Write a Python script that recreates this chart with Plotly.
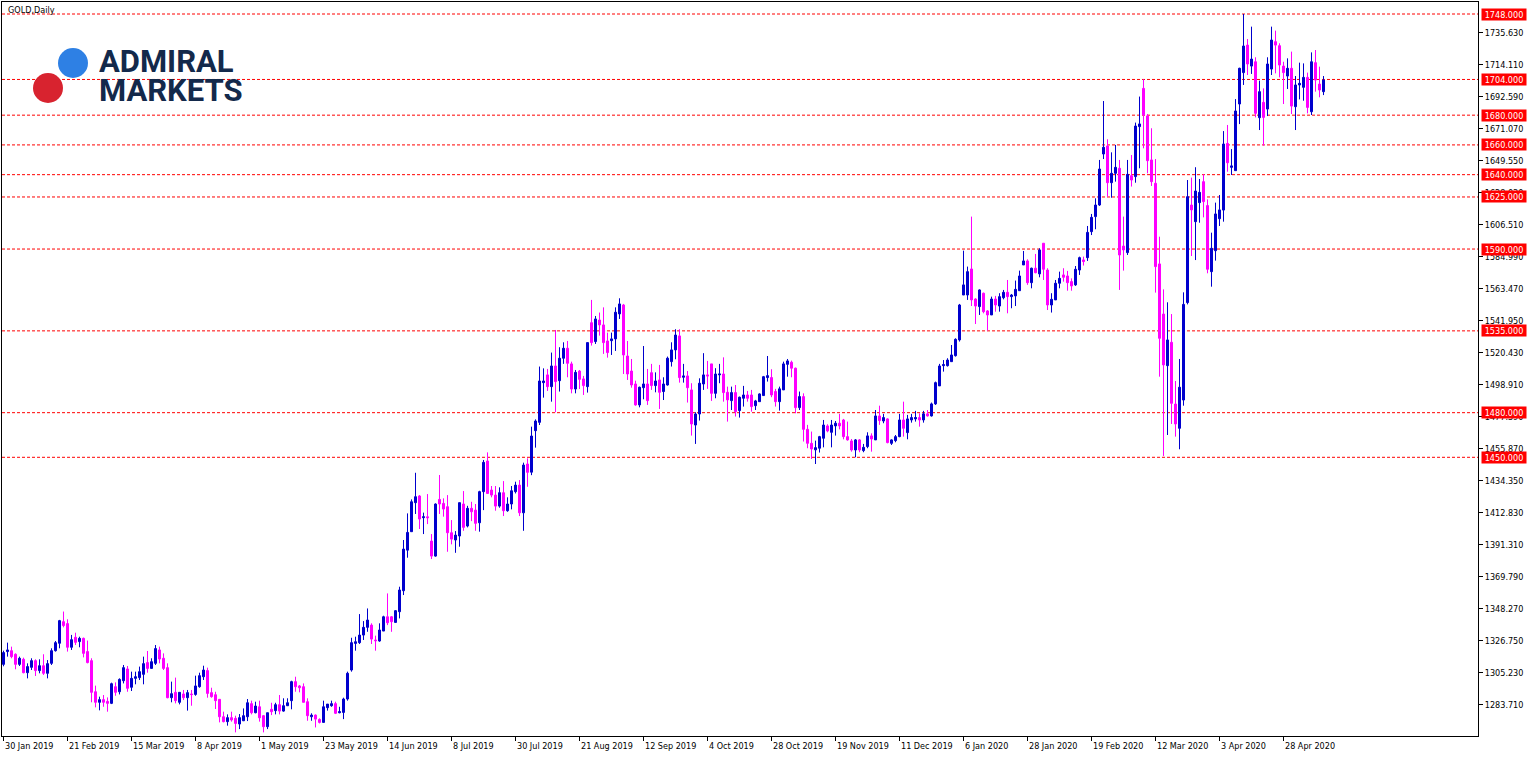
import plotly.graph_objects as go

# ---------------- data ----------------
opens = [
1310.8,1319.4,1320.0,1317.6,1310.8,1314.2,1305.2,1308.8,1313.3,1306.6,
1309.9,1304.8,1311.5,1320.0,1325.0,1339.5,1338.2,1322.3,1329.0,1326.1,
1328.3,1319.4,1313.3,1292.4,1285.3,1287.1,1285.9,1284.6,1295.8,1292.4,
1299.8,1307.7,1295.4,1301.4,1301.9,1304.1,1312.0,1308.1,1311.5,1320.5,
1314.9,1308.6,1288.4,1292.0,1285.3,1290.9,1288.4,1290.9,1290.6,1295.8,
1302.5,1306.6,1291.8,1290.4,1287.3,1275.6,1272.3,1275.0,1274.5,1270.7,
1272.9,1275.6,1284.4,1278.3,1282.3,1276.3,1268.9,1280.6,1279.7,1283.7,
1279.4,1283.0,1286.4,1299.2,1296.3,1295.8,1285.7,1275.6,1276.7,1273.8,
1271.8,1281.7,1283.0,1284.4,1278.3,1278.5,1287.5,1307.0,1324.9,1325.4,
1330.5,1335.7,1337.2,1327.2,1326.5,1333.2,1342.8,1342.8,1339.0,1346.2,
1360.3,1387.6,1400.0,1419.5,1424.0,1409.4,1410.0,1393.7,1383.6,1421.7,
1419.0,1416.8,1399.3,1394.4,1397.1,1418.6,1403.8,1415.7,1414.5,1406.0,
1426.9,1447.5,1428.0,1424.6,1417.2,1426.2,1414.1,1418.6,1426.9,1431.3,
1412.7,1445.5,1440.0,1467.9,1473.5,1500.2,1505.4,1497.5,1511.4,1501.5,
1516.6,1523.3,1512.8,1495.9,1508.0,1502.7,1497.5,1540.5,1527.8,1542.3,
1539.0,1528.2,1528.4,1529.6,1546.4,1552.4,1518.1,1508.0,1499.3,1485.2,
1496.8,1499.3,1506.9,1498.2,1502.0,1494.2,1498.6,1514.3,1522.2,1531.6,
1503.8,1504.7,1495.3,1471.7,1479.1,1499.3,1505.4,1512.8,1493.0,1505.4,
1506.0,1493.7,1488.1,1493.5,1481.4,1489.7,1491.9,1491.9,1484.7,1487.4,
1491.5,1503.6,1503.6,1494.2,1487.4,1495.3,1512.5,1513.9,1509.9,1483.4,
1490.8,1468.8,1459.4,1455.0,1456.1,1462.8,1471.1,1466.8,1471.1,1472.9,
1475.1,1463.9,1461.0,1454.9,1461.7,1454.5,1457.2,1464.4,1461.7,1477.8,
1474.4,1475.8,1459.4,1461.2,1463.9,1475.1,1466.6,1475.1,1475.8,1476.7,
1475.1,1479.2,1477.8,1485.9,1498.0,1511.6,1511.6,1514.3,1518.3,1528.9,
1559.1,1559.1,1576.6,1556.4,1551.3,1560.3,1548.4,1545.7,1556.4,1551.7,
1557.3,1560.9,1558.0,1558.5,1562.0,1579.3,1582.0,1567.4,1577.1,1573.3,
1593.9,1575.9,1552.4,1555.8,1567.0,1572.6,1571.9,1568.1,1565.9,1575.9,
1582.7,1584.2,1601.7,1611.8,1619.6,1653.9,1659.3,1634.6,1640.9,1644.3,
1592.0,1587.6,1639.3,1638.7,1672.3,1698.0,1679.5,1649.9,1634.2,1580.0,
1546.3,1511.6,1527.3,1485.8,1469.5,1488.5,1554.0,1619.6,1608.4,1621.2,
1635.3,1619.2,1574.8,1588.9,1610.4,1616.2,1661.0,1644.9,1642.7,1687.5,
1708.6,1727.1,1713.0,1715.9,1678.3,1688.6,1684.1,1711.0,1729.4,1726.7,
1713.0,1706.3,1711.5,1685.7,1700.3,1698.7,1705.4,1682.3,1715.3,1700.9,
1695.8]
highs = [
1320.0,1325.4,1322.7,1318.2,1316.0,1315.3,1311.5,1314.9,1314.2,1314.2,
1317.6,1313.7,1321.6,1326.5,1340.7,1346.3,1341.1,1330.6,1332.1,1329.4,
1328.8,1326.8,1314.9,1296.5,1289.1,1290.2,1288.6,1298.5,1298.7,1301.4,
1310.4,1309.7,1305.9,1305.9,1309.3,1316.0,1319.8,1314.9,1323.8,1322.7,
1318.2,1311.5,1299.2,1301.9,1292.0,1293.6,1293.6,1293.6,1303.2,1305.2,
1309.9,1308.6,1295.1,1292.4,1287.5,1279.0,1277.2,1279.0,1276.3,1277.4,
1281.2,1287.5,1286.4,1285.7,1286.4,1276.7,1278.3,1285.0,1285.0,1290.2,
1288.0,1288.0,1299.8,1302.5,1296.9,1298.0,1288.0,1277.9,1277.2,1274.5,
1286.4,1284.1,1286.4,1285.7,1282.3,1288.4,1305.9,1328.7,1329.4,1344.6,
1339.9,1348.4,1338.4,1330.1,1338.4,1343.5,1358.5,1343.3,1347.3,1363.0,
1394.4,1412.3,1421.7,1439.6,1424.6,1412.8,1425.3,1398.4,1419.0,1438.1,
1422.4,1424.6,1407.8,1400.4,1419.5,1427.3,1417.4,1420.1,1418.6,1427.5,
1448.2,1453.3,1430.7,1430.7,1429.8,1434.0,1423.1,1430.7,1433.6,1434.7,
1446.4,1449.3,1470.6,1475.5,1511.0,1509.8,1509.4,1520.4,1535.6,1524.0,
1527.3,1528.2,1514.3,1508.7,1508.7,1504.7,1527.1,1555.8,1545.0,1547.3,
1550.8,1533.8,1533.8,1550.8,1556.9,1553.1,1528.2,1516.1,1501.5,1497.5,
1524.8,1509.4,1512.8,1507.1,1512.1,1503.8,1517.7,1527.3,1536.1,1536.1,
1512.8,1508.0,1499.8,1480.3,1503.1,1520.0,1514.8,1512.8,1509.9,1512.8,
1517.2,1497.5,1497.5,1498.6,1490.8,1498.0,1494.6,1495.3,1488.6,1493.0,
1504.7,1518.1,1509.2,1496.0,1497.5,1514.3,1516.1,1515.0,1510.3,1494.2,
1493.0,1471.8,1467.3,1461.2,1464.4,1475.1,1472.2,1475.1,1474.4,1479.2,
1475.8,1474.0,1462.3,1462.3,1462.3,1459.0,1466.8,1466.1,1481.8,1484.7,
1479.2,1476.2,1462.1,1465.0,1479.2,1487.4,1478.5,1479.2,1481.2,1479.6,
1481.2,1481.8,1486.8,1500.9,1512.8,1515.4,1516.6,1525.5,1530.0,1553.1,
1588.9,1578.2,1611.8,1556.9,1562.9,1560.7,1549.0,1558.0,1558.5,1560.3,
1562.5,1569.2,1559.8,1568.8,1575.5,1588.7,1583.1,1577.5,1586.7,1590.5,
1593.9,1577.1,1560.3,1569.2,1574.8,1577.1,1575.3,1570.3,1578.6,1584.9,
1584.9,1605.5,1613.6,1624.1,1649.9,1689.5,1663.8,1655.0,1660.0,1649.9,
1611.8,1649.9,1653.2,1675.0,1692.5,1704.1,1680.8,1671.2,1650.5,1598.3,
1562.9,1554.2,1546.3,1501.3,1516.1,1560.9,1636.4,1638.0,1645.0,1637.1,
1640.2,1623.4,1601.0,1621.2,1626.3,1669.3,1673.4,1657.2,1690.8,1711.9,
1748.0,1731.2,1739.5,1718.9,1703.2,1698.0,1718.9,1739.5,1736.8,1728.3,
1715.9,1718.2,1722.7,1706.3,1715.3,1714.8,1708.6,1722.2,1723.8,1712.6,
1706.3]
lows = [
1309.5,1316.0,1314.9,1307.5,1309.7,1304.8,1301.4,1307.0,1303.0,1304.8,
1303.7,1301.4,1310.4,1319.4,1321.6,1335.7,1319.4,1320.5,1323.8,1322.3,
1315.5,1311.5,1285.3,1281.9,1279.9,1282.3,1279.0,1284.1,1289.7,1290.6,
1298.0,1292.4,1292.9,1297.4,1300.3,1297.4,1305.2,1308.1,1310.4,1311.5,
1307.0,1288.0,1285.3,1284.6,1283.9,1286.8,1279.7,1283.0,1289.7,1295.1,
1300.3,1288.4,1288.4,1280.8,1271.8,1271.8,1269.6,1272.3,1265.1,1267.3,
1272.7,1272.7,1277.2,1277.9,1272.3,1265.1,1267.3,1276.7,1277.2,1277.2,
1279.0,1282.8,1280.6,1292.4,1292.0,1285.3,1272.9,1272.9,1268.4,1271.1,
1271.8,1279.7,1282.3,1277.4,1277.9,1274.0,1286.4,1305.9,1320.0,1324.5,
1327.2,1332.7,1324.5,1320.0,1326.0,1333.2,1337.2,1332.7,1339.0,1341.7,
1357.4,1382.5,1400.0,1411.9,1401.8,1398.4,1405.1,1381.6,1383.2,1411.9,
1410.1,1386.5,1391.5,1385.8,1389.9,1400.6,1402.9,1407.1,1400.6,1400.0,
1414.5,1425.7,1423.1,1414.1,1416.1,1410.5,1413.4,1415.0,1425.7,1410.5,
1400.6,1430.2,1438.0,1456.5,1471.7,1490.1,1494.6,1487.4,1480.3,1494.2,
1512.8,1503.8,1493.0,1493.0,1495.9,1491.9,1493.5,1525.1,1526.2,1531.8,
1519.5,1517.0,1518.8,1521.5,1543.0,1506.0,1502.0,1496.8,1484.7,1483.6,
1489.0,1485.2,1495.3,1493.7,1482.5,1488.5,1498.2,1511.0,1515.9,1500.2,
1500.2,1486.8,1464.6,1459.0,1474.7,1495.3,1496.0,1487.9,1489.7,1499.8,
1487.4,1474.0,1481.8,1477.4,1476.7,1484.1,1487.4,1480.7,1481.8,1487.4,
1491.2,1500.9,1490.4,1484.1,1481.4,1495.3,1504.2,1503.8,1479.6,1481.8,
1460.6,1456.1,1448.9,1445.5,1453.2,1456.7,1466.8,1456.7,1464.6,1468.8,
1462.1,1461.2,1453.8,1450.0,1453.4,1453.4,1456.1,1453.8,1461.7,1471.8,
1472.9,1459.4,1458.3,1460.1,1463.5,1463.9,1462.1,1473.3,1474.0,1470.6,
1473.3,1477.4,1477.4,1485.2,1498.0,1507.6,1511.0,1514.3,1517.7,1527.8,
1559.1,1555.8,1551.7,1539.6,1545.7,1546.8,1535.2,1545.7,1547.9,1547.9,
1556.2,1546.8,1550.2,1551.7,1562.0,1579.3,1565.9,1563.6,1573.7,1571.0,
1569.2,1549.0,1547.3,1555.8,1563.6,1568.1,1562.0,1562.0,1565.2,1572.6,
1578.9,1582.0,1599.4,1603.3,1619.0,1650.5,1625.2,1624.5,1635.3,1562.5,
1575.5,1586.0,1632.0,1634.6,1644.3,1657.7,1640.9,1632.4,1560.7,1504.2,
1450.9,1465.0,1472.4,1463.9,1455.4,1484.7,1552.8,1585.3,1582.6,1607.7,
1611.3,1573.7,1564.7,1582.2,1605.5,1608.4,1642.0,1639.8,1642.7,1674.0,
1700.3,1707.0,1707.7,1678.5,1670.0,1659.5,1679.4,1707.0,1708.1,1705.4,
1687.5,1697.6,1680.8,1670.0,1690.6,1689.7,1681.2,1680.1,1695.8,1692.0,
1693.5]
closes = [
1318.7,1320.5,1316.0,1310.8,1314.9,1305.2,1309.3,1313.3,1306.6,1309.9,
1304.8,1311.3,1320.0,1325.4,1340.2,1336.9,1322.3,1327.4,1325.6,1328.3,
1318.2,1312.0,1292.0,1285.3,1287.1,1285.3,1284.6,1297.8,1292.0,1300.7,
1308.6,1294.7,1301.4,1302.5,1305.9,1311.3,1308.1,1312.6,1321.4,1314.4,
1308.1,1288.4,1291.1,1286.4,1292.0,1288.4,1291.8,1290.5,1296.3,1303.2,
1307.0,1291.3,1289.1,1286.4,1275.6,1272.3,1275.0,1273.4,1271.1,1275.0,
1276.3,1285.0,1278.3,1282.8,1274.9,1268.9,1278.3,1279.0,1283.7,1279.4,
1283.0,1285.0,1299.2,1295.8,1295.1,1285.3,1276.3,1276.7,1274.0,1271.8,
1282.3,1284.1,1284.4,1277.9,1279.0,1287.5,1304.8,1325.4,1326.0,1330.5,
1335.7,1340.6,1327.8,1326.7,1333.9,1342.8,1338.8,1339.5,1346.9,1360.8,
1388.3,1399.5,1420.1,1423.5,1408.5,1410.0,1409.4,1383.6,1418.6,1418.6,
1415.2,1399.3,1395.0,1397.7,1419.5,1402.9,1415.7,1413.4,1405.6,1426.9,
1446.6,1425.7,1424.6,1417.2,1426.2,1414.1,1418.6,1427.5,1431.3,1412.7,
1444.8,1439.9,1464.3,1474.4,1501.3,1501.3,1497.5,1511.4,1500.9,1516.6,
1523.3,1513.2,1495.9,1507.1,1502.4,1498.2,1527.1,1527.1,1543.0,1539.0,
1527.1,1520.4,1529.6,1547.5,1553.1,1518.8,1506.0,1498.6,1485.2,1497.1,
1499.3,1488.1,1498.2,1501.3,1493.7,1499.3,1516.6,1522.2,1532.2,1503.6,
1504.7,1496.8,1472.4,1479.1,1499.8,1505.4,1504.7,1493.0,1506.0,1506.0,
1493.5,1488.6,1493.5,1480.7,1490.4,1491.9,1489.7,1484.1,1487.9,1492.6,
1504.2,1504.9,1491.9,1487.4,1496.0,1512.8,1514.8,1509.9,1483.4,1490.8,
1468.8,1459.4,1455.6,1456.5,1463.9,1471.7,1467.7,1471.7,1472.9,1471.1,
1463.9,1461.7,1454.9,1461.7,1454.9,1456.7,1464.4,1462.3,1477.8,1474.7,
1476.7,1459.9,1461.7,1463.9,1475.1,1469.5,1475.8,1476.7,1476.7,1475.1,
1479.2,1477.8,1485.9,1500.2,1511.4,1512.3,1515.4,1518.8,1529.3,1552.4,
1565.9,1574.8,1555.8,1551.7,1562.5,1547.9,1545.7,1556.4,1552.4,1558.0,
1560.9,1558.0,1559.1,1562.9,1571.9,1582.0,1567.4,1577.1,1574.1,1589.4,
1576.4,1552.4,1556.2,1567.0,1570.3,1571.0,1567.4,1565.2,1576.4,1584.2,
1581.6,1601.2,1611.3,1619.6,1643.8,1658.4,1634.6,1640.9,1644.9,1586.0,
1589.4,1640.2,1636.4,1672.7,1674.1,1680.1,1649.4,1635.3,1578.2,1530.0,
1512.1,1528.9,1486.3,1472.4,1497.1,1552.8,1625.2,1616.3,1629.0,1628.1,
1621.9,1576.4,1590.5,1613.6,1616.3,1660.6,1648.0,1645.9,1682.8,1711.5,
1726.5,1714.4,1717.7,1681.2,1695.8,1678.5,1714.4,1730.5,1727.1,1713.7,
1708.6,1711.5,1686.1,1700.3,1701.4,1705.4,1685.2,1715.9,1703.6,1696.9,
1703.6]
bar_index = list(range(len(closes)))

date_labels = ["30 Jan 2019", "21 Feb 2019", "15 Mar 2019", "8 Apr 2019",
               "1 May 2019", "23 May 2019", "14 Jun 2019", "8 Jul 2019",
               "30 Jul 2019", "21 Aug 2019", "12 Sep 2019", "4 Oct 2019",
               "28 Oct 2019", "19 Nov 2019", "11 Dec 2019", "6 Jan 2020",
               "28 Jan 2020", "19 Feb 2020", "12 Mar 2020", "3 Apr 2020",
               "28 Apr 2020"]
date_positions = [16 * k for k in range(len(date_labels))]

price_ticks = [1283.71, 1305.23, 1326.75, 1348.27, 1369.79, 1391.31, 1412.83,
               1434.35, 1455.87, 1477.39, 1498.91, 1520.43, 1541.95, 1563.47,
               1584.99, 1606.51, 1628.03, 1649.55, 1671.07, 1692.59, 1714.11,
               1735.63]
levels = [1748, 1704, 1680, 1660, 1640, 1625, 1590, 1535, 1480, 1450]

# ---------------- styling ----------------
BLUE = "#0000CD"
MAGENTA = "#FF00FF"
LEVEL_RED = "#FF0000"
AX_FONT = "DejaVu Sans Condensed, DejaVu Sans, sans-serif"
AX_SIZE = 9

W, H = 1537, 757
ML, MR, MT, MB = 2, 59, 2, 21
PW, PH = W - ML - MR, H - MT - MB


def px_x(px):
    return (px - ML) / PW


def px_y(py):
    return 1 - (py - MT) / PH


fig = go.Figure()
fig.add_trace(go.Candlestick(
    x=bar_index, open=opens, high=highs, low=lows, close=closes,
    increasing=dict(line=dict(color=BLUE, width=1), fillcolor=BLUE),
    decreasing=dict(line=dict(color=MAGENTA, width=1), fillcolor=MAGENTA),
    whiskerwidth=0, hoverinfo="skip", showlegend=False,
))

shapes = []
for lv in levels:
    shapes.append(dict(type="line", xref="paper", x0=0, x1=1, yref="y", y0=lv, y1=lv,
                       line=dict(color=LEVEL_RED, width=1, dash="3px,2px"), layer="below"))
# logo circles
shapes.append(dict(type="circle", xref="paper", yref="paper", xsizemode="pixel", ysizemode="pixel",
                   xanchor=px_x(73), yanchor=px_y(63), x0=-15, x1=15, y0=-15, y1=15,
                   fillcolor="#2E80E4", line=dict(width=0)))
shapes.append(dict(type="circle", xref="paper", yref="paper", xsizemode="pixel", ysizemode="pixel",
                   xanchor=px_x(48), yanchor=px_y(88), x0=-15, x1=15, y0=-15, y1=15,
                   fillcolor="#D8232F", line=dict(width=0)))

annotations = []
for pos, lab in zip(date_positions, date_labels):
    annotations.append(dict(x=pos, xref="x", y=0, yref="paper", xanchor="left", yanchor="top",
                            yshift=-3, xshift=-1, text=lab, showarrow=False,
                            font=dict(family=AX_FONT, size=AX_SIZE, color="#000000")))
for lv in levels:
    annotations.append(dict(x=1, xref="paper", xanchor="left", xshift=3, y=lv, yref="y",
                            yanchor="middle", text=f"{lv:.3f}", showarrow=False,
                            bgcolor=LEVEL_RED, borderpad=0, width=44, height=11,
                            font=dict(family=AX_FONT, size=AX_SIZE, color="#FFFFFF")))
annotations.append(dict(x=0, xref="paper", y=1, yref="paper", xanchor="left", yanchor="top",
                        xshift=4, yshift=-1, text="GOLD,Daily", showarrow=False,
                        font=dict(family=AX_FONT, size=AX_SIZE, color="#000000")))
annotations.append(dict(x=px_x(98), xref="paper", y=px_y(62), yref="paper", xanchor="left",
                        yanchor="middle", text="<b>ADMIRAL</b>", showarrow=False,
                        height=27, borderpad=0,
                        font=dict(family="Roboto", size=31, color="#13294B")))
annotations.append(dict(x=px_x(98), xref="paper", y=px_y(91), yref="paper", xanchor="left",
                        yanchor="middle", text="<b>MARKETS</b>", showarrow=False,
                        height=27, borderpad=0,
                        font=dict(family="Roboto", size=31, color="#13294B")))

fig.update_layout(
    width=W, height=H,
    margin=dict(l=ML, r=MR, t=MT, b=MB, pad=0),
    paper_bgcolor="#FFFFFF", plot_bgcolor="#FFFFFF",
    boxgap=0.5, boxgroupgap=0,
    showlegend=False,
    shapes=shapes, annotations=annotations,
    xaxis=dict(range=[-0.375, 368.625], rangeslider=dict(visible=False),
               showline=True, linecolor="#000000", linewidth=1, mirror=True,
               ticks="outside", ticklen=4, tickcolor="#000000",
               tickvals=date_positions, showticklabels=False,
               showgrid=False, zeroline=False, fixedrange=True),
    yaxis=dict(range=[1262.65, 1756.07], side="right",
               showline=True, linecolor="#000000", linewidth=1, mirror=True,
               ticks="outside", ticklen=4, tickcolor="#000000",
               tickvals=price_ticks, ticktext=[f"{v:.3f}" for v in price_ticks],
               tickfont=dict(family=AX_FONT, size=AX_SIZE, color="#000000"),
               showgrid=False, zeroline=False, fixedrange=True),
)

fig.write_html("out.html", config={"displayModeBar": False},
               post_script="document.body.style.margin='0';")
